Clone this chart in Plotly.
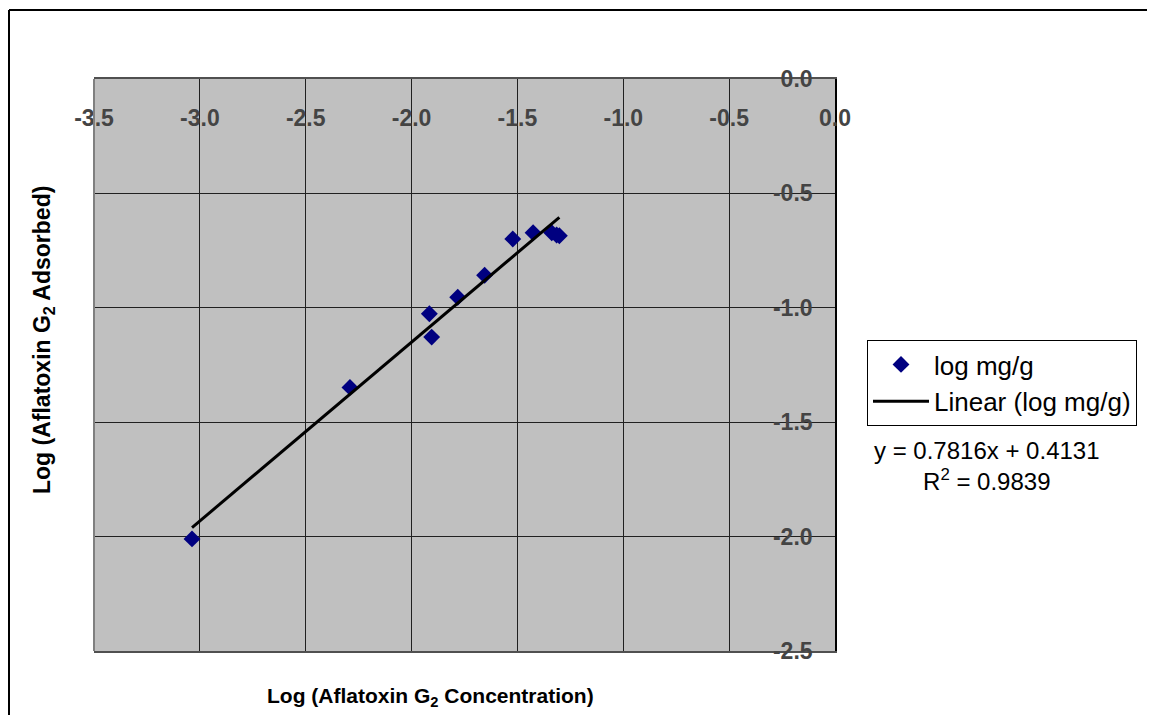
import numpy as np
import plotly.graph_objects as go

# Log concentration vs log adsorbed
log_conc = [-3.037, -2.291, -1.916, -1.905, -1.782, -1.655, -1.522, -1.426, -1.338, -1.315, -1.302]
log_ads = [-2.010, -1.348, -1.026, -1.128, -0.954, -0.858, -0.699, -0.672, -0.672, -0.682, -0.685]

# Excel linear trendline as printed on the chart
slope = 0.7816
intercept = 0.4131
r_squared = 0.9839

x_ticks = [-3.5, -3.0, -2.5, -2.0, -1.5, -1.0, -0.5, 0.0]
y_ticks = [0.0, -0.5, -1.0, -1.5, -2.0, -2.5]

# the page body adds an 8px margin, so lay out in page pixels minus that
OFF = 8
W, H = 1155 - OFF, 715 - OFF
L, R, T, B = 94, 835, 79, 651  # plot area in page pixels


def px(xp):
    return (xp - L) / (R - L)


def py(yp):
    return (B - yp) / (B - T)


FONT = "Liberation Sans, Arial, sans-serif"

trend_x = np.array([min(log_conc), max(log_conc)])
trend_y = slope * trend_x + intercept

fig = go.Figure()
fig.add_trace(go.Scatter(
    x=log_conc, y=log_ads, mode="markers", name="log mg/g",
    marker=dict(symbol="diamond", size=13, color="#000080"),
))
fig.add_trace(go.Scatter(
    x=trend_x, y=trend_y, mode="lines", name="Linear (log mg/g)",
    line=dict(color="black", width=3),
))

frame = dict(color="black", width=2)

fig.update_layout(
    width=W, height=H,
    margin=dict(l=L - OFF, r=W - (R - OFF), t=T - OFF, b=H - (B - OFF)),
    paper_bgcolor="white",
    plot_bgcolor="#C0C0C0",
    font=dict(family=FONT, color="black"),
    showlegend=True,
    legend=dict(
        x=px(867), y=py(340), xanchor="left", yanchor="top",
        bgcolor="white", bordercolor="black", borderwidth=1,
        font=dict(size=26, family=FONT), itemwidth=56,
        tracegroupgap=0,
    ),
    xaxis=dict(
        range=[-3.5, 0.0], side="top",
        tickvals=x_ticks, ticktext=[f"{v:.1f}" for v in x_ticks],
        ticklabelposition="inside", ticklabeloverflow="allow",
        ticklabelstandoff=33, ticks="",
        tickfont=dict(size=23, family=FONT, weight="bold"),
        showgrid=True, gridcolor="#202020", gridwidth=1,
        showline=True, linecolor="#505050", linewidth=2, mirror=True,
        zeroline=False,
    ),
    yaxis=dict(
        range=[-2.5, 0.0], side="right",
        tickvals=y_ticks, ticktext=[f"{v:.1f}" for v in y_ticks],
        ticklabelposition="inside", ticklabeloverflow="allow",
        ticklabelstandoff=24, ticks="",
        tickfont=dict(size=23, family=FONT, weight="bold"),
        showgrid=True, gridcolor="#202020", gridwidth=1,
        showline=True, linecolor="black", linewidth=2,
        zeroline=False,
    ),
    shapes=[
        # outer chart frame: only top and left edges fall inside the picture
        dict(type="line", xref="paper", yref="paper",
             x0=px(9), x1=px(1200), y0=py(10), y1=py(10), line=frame),
        dict(type="line", xref="paper", yref="paper",
             x0=px(9), x1=px(9), y0=py(10), y1=py(760), line=frame),
        # grey left edge of plot area
        dict(type="line", xref="paper", yref="paper",
             x0=0, x1=0, y0=0, y1=1, line=dict(color="#808080", width=2)),
    ],
    annotations=[
        dict(text="Log (Aflatoxin G<sub>2</sub> Concentration)",
             xref="paper", yref="paper", x=px(430), y=py(697),
             xanchor="center", yanchor="middle",
             showarrow=False, font=dict(size=21, family=FONT, weight="bold")),
        dict(text="Log (Aflatoxin G<sub>2</sub> Adsorbed)",
             xref="paper", yref="paper", x=px(43), y=py(340), textangle=-90,
             xanchor="center", yanchor="middle",
             showarrow=False, font=dict(size=23, family=FONT, weight="bold")),
        dict(text=f"y = {slope}x + {intercept}<br>R<sup>2</sup> = {r_squared}",
             xref="paper", yref="paper", x=px(987), y=py(466),
             xanchor="center", yanchor="middle",
             showarrow=False, align="center",
             font=dict(size=24, family=FONT)),
    ],
)

fig.write_html("out.html")
